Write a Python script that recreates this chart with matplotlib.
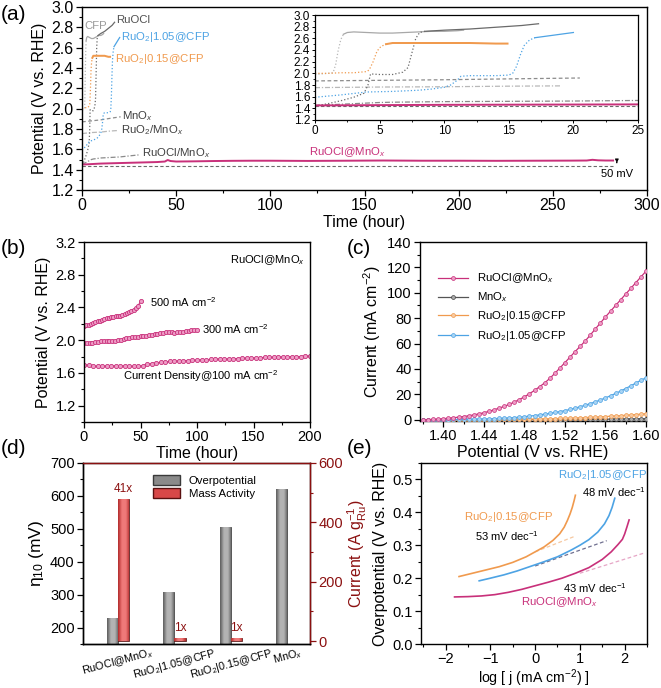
import numpy as np
import matplotlib
matplotlib.use('Agg')
import matplotlib.pyplot as plt
from matplotlib.ticker import MultipleLocator
from matplotlib.colors import LinearSegmentedColormap
from matplotlib.patches import Patch
from matplotlib.lines import Line2D

plt.rcParams['font.family'] = ['Liberation Sans', 'DejaVu Sans']
plt.rcParams['mathtext.fontset'] = 'custom'
plt.rcParams['mathtext.rm'] = 'Liberation Sans'
plt.rcParams['mathtext.it'] = 'Liberation Sans:italic'
plt.rcParams['mathtext.bf'] = 'Liberation Sans:bold'
plt.rcParams['xtick.direction'] = 'out'
plt.rcParams['ytick.direction'] = 'out'
plt.rcParams['axes.linewidth'] = 1.0

# ---------------- data: panel (a) ----------------
a_ruocl_mnox_t = [0, 5, 10, 20, 30, 40, 44, 45.5, 47, 50, 60, 70, 80, 90, 100, 120, 140, 160, 180, 200, 220, 240, 260, 268, 271, 274, 278, 282]
a_ruocl_mnox_v = [1.45, 1.455, 1.46, 1.465, 1.47, 1.475, 1.48, 1.495, 1.485, 1.48, 1.482, 1.485, 1.487, 1.488, 1.488, 1.486, 1.488, 1.49, 1.488, 1.488, 1.487, 1.488, 1.489, 1.49, 1.497, 1.492, 1.49, 1.49]
a_ref_t = [0, 282]
a_ref_v = [1.44, 1.44]
a_cfp_t = [0, 0.5, 1.0, 1.4, 1.6, 1.8, 2.0, 2.2, 2.5, 3, 4, 5, 6, 7, 8, 9, 10, 11, 11.5]
a_cfp_v = [1.98, 1.99, 2.0, 2.01, 2.15, 2.4, 2.58, 2.67, 2.70, 2.71, 2.70, 2.69, 2.69, 2.70, 2.71, 2.72, 2.72, 2.73, 2.74]
a_ruocl_t = [0, 1, 2, 3, 3.8, 4.1, 4.3, 5, 6, 6.8, 7.2, 7.5, 7.8, 8.1, 8.5, 10, 12, 14, 16, 17.3]
a_ruocl_v = [1.44, 1.48, 1.53, 1.59, 1.66, 1.80, 1.99, 1.98, 1.98, 2.02, 2.10, 2.35, 2.60, 2.70, 2.72, 2.74, 2.76, 2.79, 2.82, 2.85]
a_ru015_t = [0, 1, 2, 3, 4, 4.2, 4.5, 4.8, 5.1, 5.5, 6, 7, 8, 10, 12, 14, 14.9]
a_ru015_v = [2.0, 2.0, 2.01, 2.01, 2.03, 2.06, 2.2, 2.38, 2.46, 2.50, 2.52, 2.52, 2.52, 2.52, 2.52, 2.51, 2.51]
a_ru105_t = [0, 2, 4, 6, 8, 9, 10, 10.5, 11, 11.3, 12, 13, 14, 15, 15.3, 15.6, 15.9, 16.2, 16.6, 17, 18, 19, 20]
a_ru105_v = [1.59, 1.63, 1.68, 1.69, 1.71, 1.73, 1.76, 1.80, 1.88, 1.95, 1.96, 1.96, 1.96, 1.97, 2.0, 2.12, 2.32, 2.48, 2.57, 2.61, 2.64, 2.67, 2.70]
a_mnox_t = [0, 5, 10, 15, 20.5]
a_mnox_v = [1.87, 1.88, 1.89, 1.905, 1.92]
a_ruo2mnox_t = [0, 5, 10, 15, 19]
a_ruo2mnox_v = [1.755, 1.765, 1.77, 1.78, 1.785]
a_rumnox_t = [0, 1, 2, 3, 4, 5, 6, 8, 10, 15, 20, 25, 30]
a_rumnox_v = [1.45, 1.46, 1.47, 1.48, 1.49, 1.50, 1.505, 1.51, 1.515, 1.52, 1.525, 1.535, 1.545]

# ---------------- data: panel (b) ----------------
b100_t = [0, 4, 8, 12, 16, 20, 24, 28, 32, 36, 40, 44, 48, 52, 56, 60, 64, 68, 72, 76, 80, 84, 88, 92, 96, 100,
          104, 108, 112, 116, 120, 124, 128, 132, 136, 140, 144, 148, 152, 156, 160, 164, 168, 172, 176, 180, 184, 188, 192, 196, 200]
b100_v = [1.70, 1.695, 1.685, 1.68, 1.68, 1.685, 1.685, 1.685, 1.685, 1.685, 1.68, 1.68, 1.68, 1.69, 1.705, 1.715, 1.72, 1.73, 1.735, 1.74, 1.745, 1.745, 1.75, 1.75, 1.755, 1.755,
          1.76, 1.76, 1.765, 1.765, 1.77, 1.77, 1.77, 1.775, 1.775, 1.78, 1.78, 1.78, 1.785, 1.785, 1.79, 1.79, 1.79, 1.795, 1.795, 1.795, 1.80, 1.80, 1.80, 1.805, 1.805]
b300_t = [0, 2.5, 5, 7.5, 10, 12.5, 15, 17.5, 20, 22.5, 25, 27.5, 30, 32.5, 35, 37.5, 40, 42.5, 45, 47.5, 50,
          52.5, 55, 57.5, 60, 62.5, 65, 67.5, 70, 72.5, 75, 77.5, 80, 82.5, 85, 87.5, 90, 92.5, 95, 97.5, 100]
b300_v = [1.96, 1.96, 1.965, 1.97, 1.975, 1.98, 1.985, 1.99, 1.995, 1.995, 1.995, 1.995, 2.0, 2.005, 2.015, 2.025, 2.03, 2.035, 2.04, 2.045, 2.05,
          2.055, 2.055, 2.06, 2.065, 2.075, 2.08, 2.085, 2.09, 2.095, 2.095, 2.095, 2.09, 2.095, 2.10, 2.105, 2.11, 2.115, 2.12, 2.125, 2.13]
b500_t = [0, 2, 4, 6, 8, 10, 12, 14, 16, 18, 20, 22, 24, 26, 28, 30, 32, 34, 36, 38, 40, 42, 44, 46, 48, 50]
b500_v = [2.17, 2.18, 2.19, 2.20, 2.21, 2.22, 2.23, 2.24, 2.25, 2.26, 2.27, 2.275, 2.28, 2.285, 2.29, 2.295, 2.30, 2.31, 2.32, 2.33, 2.345, 2.36, 2.375, 2.39, 2.42, 2.48]

# ---------------- data: panel (c) ----------------
c_potential = [1.380, 1.385, 1.390, 1.395, 1.400, 1.405, 1.410, 1.415, 1.420, 1.425, 1.430, 1.435, 1.440, 1.445, 1.450,
               1.455, 1.460, 1.465, 1.470, 1.475, 1.480, 1.485, 1.490, 1.495, 1.500, 1.505, 1.510, 1.515, 1.520, 1.525,
               1.530, 1.535, 1.540, 1.545, 1.550, 1.555, 1.560, 1.565, 1.570, 1.575, 1.580, 1.585, 1.590, 1.595, 1.600]
c_ruocl_mnox = [0.0, 0.1, 0.3, 0.5, 0.8, 1.2, 1.6, 2.0, 2.5, 3.1, 3.8, 4.6, 5.5, 6.6, 7.8,
                9.1, 10.5, 12.1, 13.9, 15.9, 18.0, 20.5, 23.1, 26.0, 29.0, 32.5, 36.5, 40.7, 45.0, 49.3,
                53.6, 57.8, 62.0, 66.7, 71.5, 76.2, 81.0, 85.5, 90.0, 94.5, 99.0, 103.5, 108.0, 112.5, 117.0]
c_mnox = [0.0, 0.0, 0.0, 0.0, 0.0, 0.0, 0.0, 0.0, 0.0, 0.0, 0.0, 0.0, 0.0, 0.0, 0.0,
          0.0, 0.0, 0.0, 0.0, 0.0, 0.05, 0.05, 0.05, 0.05, 0.1, 0.1, 0.1, 0.15, 0.15, 0.2,
          0.2, 0.25, 0.25, 0.3, 0.35, 0.4, 0.4, 0.45, 0.5, 0.55, 0.6, 0.65, 0.7, 0.75, 0.8]
c_ru015 = [0.0, 0.0, 0.0, 0.0, 0.0, 0.0, 0.0, 0.0, 0.05, 0.05, 0.1, 0.1, 0.1, 0.15, 0.15,
           0.2, 0.2, 0.25, 0.3, 0.35, 0.4, 0.45, 0.5, 0.6, 0.7, 0.8, 0.9, 1.0, 1.1, 1.25,
           1.4, 1.55, 1.7, 1.9, 2.1, 2.3, 2.5, 2.75, 3.0, 3.25, 3.5, 3.8, 4.1, 4.4, 4.7]
c_ru105 = [0.0, 0.0, 0.0, 0.1, 0.1, 0.1, 0.2, 0.2, 0.3, 0.3, 0.4, 0.5, 0.6, 0.7, 0.9,
           1.0, 1.2, 1.4, 1.7, 2.0, 2.4, 2.8, 3.3, 3.8, 4.4, 5.0, 5.7, 6.4, 7.2, 8.1,
           9.1, 10.2, 11.4, 12.7, 14.1, 15.6, 17.2, 18.9, 20.7, 22.6, 24.6, 26.7, 28.9, 31.1, 33.0]

# ---------------- data: panel (d) ----------------
d_categories = ['RuOCl@MnO$_x$', 'RuO$_2$|1.05@CFP', 'RuO$_2$|0.15@CFP', 'MnO$_x$']
d_overpotential = [229, 307, 507, 620]
d_mass_activity = [480, 11.7, 11.7]
d_ratio_labels = ['41x', '1x', '1x']

# ---------------- data: panel (e) ----------------
e_ru015_x = [-1.7, -1.4, -1.1, -0.8, -0.5, -0.2, 0.0, 0.2, 0.4, 0.55, 0.65, 0.72, 0.78, 0.83, 0.87, 0.9]
e_ru015_y = [0.205, 0.215, 0.225, 0.235, 0.248, 0.265, 0.28, 0.295, 0.315, 0.335, 0.355, 0.375, 0.395, 0.415, 0.435, 0.452]
e_ru105_x = [-1.25, -1.0, -0.7, -0.4, -0.1, 0.2, 0.5, 0.8, 1.0, 1.2, 1.4, 1.55, 1.65, 1.72, 1.78]
e_ru105_y = [0.192, 0.2, 0.21, 0.222, 0.236, 0.25, 0.265, 0.285, 0.3, 0.317, 0.34, 0.365, 0.39, 0.415, 0.443]
e_ruocl_x = [-1.8, -1.5, -1.2, -0.9, -0.6, -0.3, 0.0, 0.3, 0.6, 0.9, 1.2, 1.5, 1.7, 1.85, 1.95, 2.0, 2.05, 2.1]
e_ruocl_y = [0.143, 0.144, 0.146, 0.15, 0.157, 0.166, 0.177, 0.188, 0.2, 0.215, 0.232, 0.257, 0.28, 0.302, 0.318, 0.334, 0.355, 0.377]
e_fit015_x = [0.0, 0.9]
e_fit015_y = [0.28, 0.328]
e_fit105_x = [0.0, 1.6]
e_fit105_y = [0.237, 0.314]
e_fitruocl_x = [1.0, 2.45]
e_fitruocl_y = [0.215, 0.277]

# ---------------- styles ----------------
MAG = '#c8307a'
BLUE = '#4da3e4'
ORANGE = '#f09a4e'
GRAY_D = '#6a6a6a'
GRAY_M = '#8c8c8c'
GRAY_L = '#b8b8b8'
DRED = '#8b1010'

W, H = 661, 688
fig = plt.figure(figsize=(W / 100, H / 100), dpi=100)


def axpx(x0, y0, x1, y1):
    return fig.add_axes([x0 / W, 1 - y1 / H, (x1 - x0) / W, (y1 - y0) / H])


LAB = 11.5


def style(ax, size):
    ax.tick_params(which='major', length=4, width=0.9, labelsize=size, pad=2)
    ax.tick_params(which='minor', length=2.2, width=0.8)


# ================= panel (a) =================
ax = axpx(82, 7, 647, 190)


def draw_a(ax, lw):
    ax.plot(a_ref_t, a_ref_v, ls=(0, (3, 2)), color=GRAY_D, lw=0.8)
    ax.plot(a_rumnox_t, a_rumnox_v, ls=(0, (4, 1.5, 1, 1.5)), color='#8a8a8a', lw=lw)
    ax.plot(a_ruo2mnox_t, a_ruo2mnox_v, ls=(0, (4, 1.5, 1, 1.5)), color=GRAY_L, lw=lw)
    ax.plot(a_mnox_t, a_mnox_v, ls=(0, (3, 2)), color=GRAY_M, lw=lw)
    k = 7
    ax.plot(a_cfp_t[:k + 1], a_cfp_v[:k + 1], ls=':', color=GRAY_L, lw=lw)
    ax.plot(a_cfp_t[k:], a_cfp_v[k:], ls='-', color='#a8a8a8', lw=lw)
    k = 14
    ax.plot(a_ruocl_t[:k + 1], a_ruocl_v[:k + 1], ls=':', color=GRAY_D, lw=lw)
    ax.plot(a_ruocl_t[k:], a_ruocl_v[k:], ls='-', color=GRAY_D, lw=lw)
    k = 9
    ax.plot(a_ru015_t[:k + 1], a_ru015_v[:k + 1], ls=':', color=ORANGE, lw=lw)
    ax.plot(a_ru015_t[k:], a_ru015_v[k:], ls='-', color=ORANGE, lw=lw * 1.6)
    k = 19
    ax.plot(a_ru105_t[:k + 1], a_ru105_v[:k + 1], ls=':', color=BLUE, lw=lw)
    ax.plot(a_ru105_t[k:], a_ru105_v[k:], ls='-', color=BLUE, lw=lw)
    ax.plot(a_ruocl_mnox_t, a_ruocl_mnox_v, ls='-', color=MAG, lw=1.4)


draw_a(ax, 0.9)
ax.set_xlim(0, 300)
ax.set_ylim(1.2, 3.0)
ax.xaxis.set_major_locator(MultipleLocator(50))
ax.xaxis.set_minor_locator(MultipleLocator(25))
ax.yaxis.set_major_locator(MultipleLocator(0.2))
ax.yaxis.set_minor_locator(MultipleLocator(0.1))
ax.yaxis.set_major_formatter(matplotlib.ticker.FormatStrFormatter('%.1f'))
style(ax, 11.5)
ax.set_xlabel('Time (hour)', fontsize=LAB, labelpad=1)
ax.set_ylabel('Potential (V vs. RHE)', fontsize=LAB, labelpad=3)
fs = 8.2
ax.text(1.5, 2.81, 'CFP', color='#9a9a9a', fontsize=fs, va='center')
ax.text(18, 2.87, 'RuOCl', color='#505050', fontsize=fs, va='center')
ax.text(20.5, 2.70, 'RuO$_2$|1.05@CFP', color=BLUE, fontsize=fs, va='center')
ax.text(17.5, 2.49, 'RuO$_2$|0.15@CFP', color=ORANGE, fontsize=fs, va='center')
ax.text(21, 1.925, 'MnO$_x$', color='#404040', fontsize=fs, va='center')
ax.text(20.5, 1.785, 'RuO$_2$/MnO$_x$', color='#404040', fontsize=fs, va='center')
ax.text(32, 1.565, 'RuOCl/MnO$_x$', color='#404040', fontsize=fs, va='center')
ax.text(141, 1.575, 'RuOCl@MnO$_x$', color=MAG, fontsize=fs, va='center', ha='center')
ax.annotate('', xy=(284, 1.44), xytext=(284, 1.495),
            arrowprops=dict(arrowstyle='-|>', lw=0.7, color='black', mutation_scale=5))
ax.text(284, 1.36, '50 mV', fontsize=8, ha='center', va='center')

# inset
ai = axpx(315, 15, 638, 120)
draw_a(ai, 0.9)
ai.set_xlim(0, 25)
ai.set_ylim(1.2, 3.0)
ai.xaxis.set_major_locator(MultipleLocator(5))
ai.xaxis.set_minor_locator(MultipleLocator(2.5))
ai.yaxis.set_major_locator(MultipleLocator(0.2))
ai.yaxis.set_minor_locator(MultipleLocator(0.1))
ai.yaxis.set_major_formatter(matplotlib.ticker.FormatStrFormatter('%.1f'))
ai.tick_params(which='major', length=2.5, width=0.7, labelsize=8.5, pad=1)
ai.tick_params(which='minor', length=1.5, width=0.6)
for s in ai.spines.values():
    s.set_linewidth(0.9)

# ================= panel (b) =================
ax = axpx(84, 242, 310, 422)
mk = dict(marker='o', ms=3, mew=0.6, mec=MAG, mfc='#ee9cc6', color=MAG, lw=0.8)
ax.plot(b100_t, b100_v, **mk)
ax.plot(b300_t, b300_v, **mk)
ax.plot(b500_t, b500_v, **mk)
ax.set_xlim(0, 200)
ax.set_ylim(1.0, 3.2)
ax.xaxis.set_major_locator(MultipleLocator(50))
ax.xaxis.set_minor_locator(MultipleLocator(25))
ax.yaxis.set_minor_locator(MultipleLocator(0.2))
ax.set_yticks([1.2, 1.6, 2.0, 2.4, 2.8, 3.2])
ax.yaxis.set_major_formatter(matplotlib.ticker.FormatStrFormatter('%.1f'))
style(ax, 10.5)
ax.set_xlabel('Time (hour)', fontsize=LAB, labelpad=1)
ax.set_ylabel('Potential (V vs. RHE)', fontsize=LAB, labelpad=3)
ax.text(58, 2.47, '500 mA cm$^{-2}$', fontsize=8, va='center')
ax.text(104, 2.14, '300 mA cm$^{-2}$', fontsize=8, va='center')
ax.text(103, 1.56, 'Current Density@100 mA cm$^{-2}$', fontsize=8, va='center', ha='center')
ax.text(162, 2.98, 'RuOCl@MnO$_x$', fontsize=8, va='center', ha='center')

# ================= panel (c) =================
ax = axpx(420, 242, 646, 421)
mkc = dict(marker='o', ms=2.8, mew=0.5, lw=0.9)
ax.plot(c_potential, c_mnox, color='#555555', mec='#444444', mfc='#aaaaaa', label='MnO$_x$', zorder=3, **mkc)
ax.plot(c_potential, c_ru015, color=ORANGE, mec=ORANGE, mfc='#f8caa0', label='RuO$_2$|0.15@CFP', zorder=4, **mkc)
ax.plot(c_potential, c_ru105, color=BLUE, mec=BLUE, mfc='#a8d4f4', label='RuO$_2$|1.05@CFP', zorder=5, **mkc)
ax.plot(c_potential, c_ruocl_mnox, color=MAG, mec=MAG, mfc='#ee9cc6', label='RuOCl@MnO$_x$', zorder=6, **mkc)
h, l = ax.get_legend_handles_labels()
order = [3, 0, 1, 2]
ax.legend([h[i] for i in order], [l[i] for i in order], loc='upper left', bbox_to_anchor=(0.06, 0.86),
          frameon=False, fontsize=8.2, handlelength=2.6, labelspacing=0.45, borderaxespad=0)
ax.set_xlim(1.377, 1.60)
ax.set_ylim(-1, 140)
ax.set_xticks([1.40, 1.44, 1.48, 1.52, 1.56, 1.60])
ax.xaxis.set_minor_locator(MultipleLocator(0.02))
ax.xaxis.set_major_formatter(matplotlib.ticker.FormatStrFormatter('%.2f'))
ax.yaxis.set_major_locator(MultipleLocator(20))
ax.yaxis.set_minor_locator(MultipleLocator(10))
style(ax, 10.5)
ax.set_xlabel('Potential (V vs. RHE)', fontsize=LAB, labelpad=1)
ax.set_ylabel('Current (mA cm$^{-2}$)', fontsize=LAB, labelpad=3)

# ================= panel (d) =================
ax = axpx(83, 463, 310, 644)
ax2 = ax.twinx()
x = np.arange(len(d_categories))
bw = 0.2


def gradient_fill(a, bars, dark, light):
    cmap = LinearSegmentedColormap.from_list('g', [dark, light, light, dark])
    g = np.linspace(0, 1, 64).reshape(1, -1)
    for b in bars:
        x0, y0 = b.get_x(), b.get_y()
        w, hh = b.get_width(), b.get_height()
        im = a.imshow(g, extent=(x0, x0 + w, y0, y0 + hh), cmap=cmap, aspect='auto',
                      interpolation='bicubic', zorder=b.get_zorder())
        im.set_clip_path(b.get_path(), b.get_transform())
        b.set_facecolor('none')


gb = ax.bar(x - bw / 2, d_overpotential, width=bw, bottom=0, color='#8a8a8a', edgecolor='#3a3a3a', lw=0.6, zorder=2)
rb = ax2.bar(x[:3] + bw / 2, d_mass_activity, width=bw, bottom=0, color='#d84848', edgecolor='#5a1010', lw=0.6, zorder=2)
gradient_fill(ax, gb, '#5a5a5a', '#b4b4b4')
gradient_fill(ax2, rb, '#b02828', '#f07a7a')
ax.set_xlim(-0.62, 3.4)
ax.set_ylim(150, 700)
ax2.set_ylim(-10, 600)
ax.set_yticks([200, 300, 400, 500, 600, 700])
ax.yaxis.set_minor_locator(MultipleLocator(50))
ax2.set_yticks([0, 200, 400, 600])
ax2.yaxis.set_minor_locator(MultipleLocator(100))
ax.set_xticks(x)
ax.set_xticklabels(d_categories, rotation=15, ha='center', fontsize=7.8)
style(ax, 10.5)
ax.tick_params(axis='x', which='both', length=0, pad=1.5, labelsize=7.8)
ax2.tick_params(which='major', length=4, width=0.9, labelsize=10.5, pad=2, colors=DRED)
ax2.tick_params(which='minor', length=2.2, width=0.8, colors=DRED)
ax2.spines['right'].set_color(DRED)
ax2.spines['top'].set_color(DRED)
ax.set_ylabel('η$_{10}$ (mV)', fontsize=LAB + 1, labelpad=3)
ax2.set_ylabel('Current (A g$_{\\mathrm{Ru}}^{-1}$)', fontsize=LAB, color=DRED, labelpad=2)
for xi, yv, t in zip(x[:3], d_mass_activity, d_ratio_labels):
    ax2.text(xi + bw / 2, yv + 12, t, color=DRED, fontsize=8.5, ha='center', va='bottom')
ax2.legend([Patch(facecolor='#8a8a8a', edgecolor='#3a3a3a'), Patch(facecolor='#d84848', edgecolor='#5a1010')],
           ['Overpotential', 'Mass Activity'], loc='upper left', bbox_to_anchor=(0.29, 0.96),
           frameon=False, fontsize=8.2, handlelength=2.3, handleheight=1.0, labelspacing=0.2, borderaxespad=0)

# ================= panel (e) =================
ax = axpx(421, 463, 647, 644)
ax.plot(e_fit015_x, e_fit015_y, ls=(0, (3, 2)), color='#f6c8a0', lw=0.9)
ax.plot(e_fit105_x, e_fit105_y, ls=(0, (3, 2)), color='#707090', lw=0.9)
ax.plot(e_fitruocl_x, e_fitruocl_y, ls=(0, (3, 2)), color='#e6a6c6', lw=0.9)
ax.plot(e_ru015_x, e_ru015_y, color=ORANGE, lw=1.2)
ax.plot(e_ru105_x, e_ru105_y, color=BLUE, lw=1.2)
ax.plot(e_ruocl_x, e_ruocl_y, color=MAG, lw=1.2)
ax.set_xlim(-2.55, 2.5)
ax.set_ylim(0, 0.55)
ax.xaxis.set_major_locator(MultipleLocator(1))
ax.xaxis.set_minor_locator(MultipleLocator(0.5))
ax.yaxis.set_major_locator(MultipleLocator(0.1))
ax.yaxis.set_minor_locator(MultipleLocator(0.05))
ax.yaxis.set_major_formatter(matplotlib.ticker.FormatStrFormatter('%.1f'))
style(ax, 10.5)
ax.set_xlabel('log [ j (mA cm$^{-2}$) ]', fontsize=10.2, labelpad=0.5)
ax.set_ylabel('Overpotential (V vs. RHE)', fontsize=LAB, labelpad=3)
ax.text(1.5, 0.513, 'RuO$_2$|1.05@CFP', color=BLUE, fontsize=8.2, ha='center', va='center')
ax.text(1.77, 0.462, '48 mV dec$^{-1}$', fontsize=8, ha='center', va='center')
ax.text(-0.6, 0.386, 'RuO$_2$|0.15@CFP', color=ORANGE, fontsize=8.2, ha='center', va='center')
ax.text(-0.62, 0.327, '53 mV dec$^{-1}$', fontsize=8, ha='center', va='center')
ax.text(1.34, 0.17, '43 mV dec$^{-1}$', fontsize=8, ha='center', va='center')
ax.text(0.53, 0.128, 'RuOCl@MnO$_x$', color=MAG, fontsize=8.2, ha='center', va='center')

# panel labels
for lab, px, py in [('(a)', 1, 14), ('(b)', 1, 249), ('(c)', 347, 249), ('(d)', 1, 449), ('(e)', 347, 449)]:
    fig.text(px / W, 1 - py / H, lab, fontsize=15, va='center', ha='left')

fig.savefig('out.png', dpi=100)
